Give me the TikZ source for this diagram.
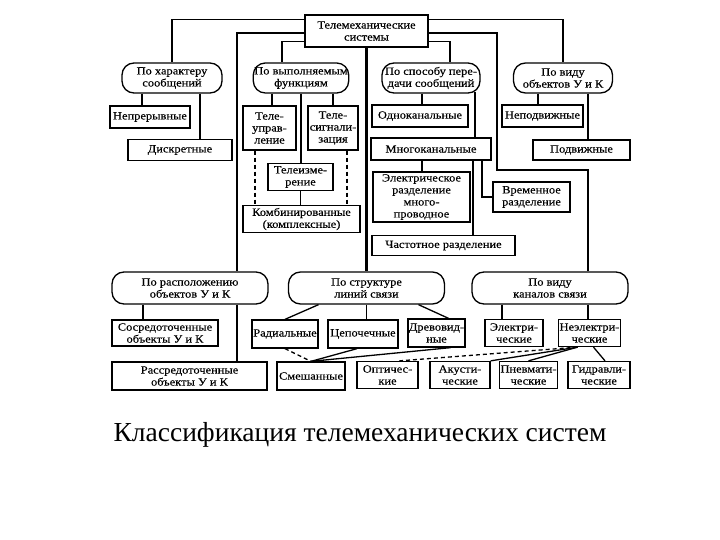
\documentclass[tikz,border=0pt]{standalone}
\usepackage{fontspec}
\setmainfont{Liberation Serif}
\newfontfamily\boxfont[FakeStretch=1.13,FakeBold=0.3]{Liberation Serif}

\begin{document}
\begin{tikzpicture}[x=1pt,y=-1pt,line width=1.3pt,box/.style={draw,rectangle,align=center,inner sep=1pt,font=\boxfont\fontsize{11}{12}\selectfont},rb/.style={box,rounded corners=12pt},thk/.style={line width=2.2pt},dsh/.style={dash pattern=on 4pt off 3pt}]
\useasboundingbox (0,0) rectangle (720,540);
\node[box,minimum width=123,minimum height=32] (top) at (366.5,31) {Телемеханические\\системы};
\node[rb,minimum width=100,minimum height=30] (hr) at (172,78) {По характеру\\сообщений};
\node[rb,minimum width=95,minimum height=30] (fn) at (301,78) {По выполняемым\\функциям};
\node[rb,minimum width=98,minimum height=30] (sp) at (431,78) {По способу пере-\\дачи сообщений};
\node[rb,minimum width=99,minimum height=30] (ob) at (563,78) {По виду\\объектов У и К};
\node[box,minimum width=80,minimum height=22] (nep) at (150,117) {Непрерывные};
\node[box,minimum width=104,minimum height=21] (dis) at (180,150) {Дискретные};
\node[box,minimum width=53,minimum height=44] (tu) at (269.5,128) {Теле-\\управ-\\ление};
\node[box,minimum width=50,minimum height=44] (ts) at (333,128) {Теле-\\сигнали-\\зация};
\node[box,minimum width=65,minimum height=27] (ti) at (300.5,177) {Телеизме-\\рение};
\node[box,minimum width=117,minimum height=27] (kom) at (301.5,219) {Комбинированные\\(комплексные)};
\node[box,minimum width=96,minimum height=22] (odn) at (420,116) {Одноканальные};
\node[box,minimum width=120,minimum height=22] (mn) at (431,149) {Многоканальные};
\node[box,minimum width=97,minimum height=50] (el) at (421.5,197) {Электрическое\\разделение\\много-\\проводное};
\node[box,minimum width=77,minimum height=30] (vr) at (531.5,197) {Временное\\разделение};
\node[box,minimum width=143,minimum height=20] (chr) at (443.5,245.5) {Частотное разделение};
\node[box,minimum width=81,minimum height=22] (nepd) at (542.5,116) {Неподвижные};
\node[box,minimum width=97,minimum height=20] (pod) at (581.5,150) {Подвижные};
\node[rb,minimum width=156,minimum height=32] (loc) at (190,288) {По расположению\\объектов У и К};
\node[rb,minimum width=156,minimum height=32] (st) at (366.5,288) {По структуре\\линий связи};
\node[rb,minimum width=156,minimum height=32] (ch) at (550,288) {По виду\\каналов связи};
\node[box,minimum width=106,minimum height=26] (sos) at (165,333) {Сосредоточенные\\объекты У и К};
\node[box,minimum width=155,minimum height=28] (ras) at (189.5,376) {Рассредоточенные\\объекты У и К};
\node[box,minimum width=66,minimum height=28] (rad) at (285,334) {Радиальные};
\node[box,minimum width=70,minimum height=28] (cep) at (363,334) {Цепочечные};
\node[box,minimum width=57,minimum height=28] (dr) at (436.5,333) {Древовид-\\ные};
\node[box,minimum width=68,minimum height=28] (sm) at (311,376) {Смешанные};
\node[box,minimum width=58,minimum height=27] (elk) at (514,333) {Электри-\\ческие};
\node[box,minimum width=55,minimum height=27] (nel) at (589.5,333) {Неэлектри-\\ческие};
\node[box,minimum width=61,minimum height=27] (opt) at (387.5,375) {Оптичес-\\кие};
\node[box,minimum width=60,minimum height=27] (ak) at (460,375) {Акусти-\\ческие};
\node[box,minimum width=57,minimum height=27] (pn) at (528.5,375) {Пневмати-\\ческие};
\node[box,minimum width=62,minimum height=27] (gd) at (599,375) {Гидравли-\\ческие};
\node[font=\fontsize{27.5}{30}\selectfont] (cap) at (360,435) {Классификация телемеханических систем};
\coordinate (kr) at (497,170);
\draw ([yshift=-5]top.north west) -| (hr);
\draw ([yshift=-5]top.north east) -| (ob);
\draw ([yshift=6]top.south west) -| ([xshift=-19]fn.north);
\draw ([yshift=6]top.south east) -| ([xshift=19]sp.north);
\draw[thk] ([yshift=-2]top.west) -| ([xshift=47]loc.north);
\draw[thk] ([yshift=-2]top.east) -| (kr) -| ([xshift=38]ch.north);
\draw[thk] (top.south) -- (top.south |- st.north);
\draw ([xshift=-30]hr.south) -- ([xshift=-30]hr.south |- nep.north);
\draw ([xshift=28]hr.south) -- ([xshift=28]hr.south |- dis.north);
\draw ([xshift=-29]fn.south) -- ([xshift=-29]fn.south |- tu.north);
\draw ([xshift=32]fn.south) -- ([xshift=32]fn.south |- ts.north);
\draw (fn.south) -- (fn.south |- ti.north);
\draw (ti.south) -- (ti.south |- kom.north);
\draw[dsh] ([xshift=-14.5]tu.south) -- ([xshift=-14.5]tu.south |- kom.north);
\draw[dsh] ([xshift=14]ts.south) -- ([xshift=14]ts.south |- kom.north);
\draw ([xshift=-9]sp.south) -- ([xshift=-9]sp.south |- odn.north);
\draw ([xshift=44,yshift=2]sp.south) -- ([xshift=44]sp.south |- mn.north);
\draw ([xshift=-9]mn.south) -- ([xshift=-9]mn.south |- el.north);
\draw ([xshift=42]mn.south) -- ([xshift=42]mn.south |- chr.north);
\draw ([xshift=51]mn.south) |- (vr);
\draw ([xshift=-25]ob.south) -- ([xshift=-25]ob.south |- nepd.north);
\draw ([xshift=25]ob.south) -- ([xshift=25]ob.south |- pod.north);
\draw ([xshift=-47]loc.south) -- ([xshift=-47]loc.south |- sos.north);
\draw ([xshift=47]loc.south) -- ([xshift=47]loc.south |- ras.north);
\draw ([xshift=-48]st.south) -- (rad.north);
\draw (st.south) -- (st.south |- cep.north);
\draw ([xshift=52]st.south) -- ([xshift=12]dr.north);
\draw[dsh] (rad.south) -- (sm.north);
\draw ([xshift=-6]cep.south) -- (sm.north);
\draw ([xshift=14]dr.south) -- (sm.north);
\draw ([xshift=-48]ch.south) -- ([xshift=-48]ch.south |- elk.north);
\draw ([xshift=38]ch.south) -- ([xshift=38]ch.south |- nel.north);
\draw[dsh] ([xshift=-12]nel.south) -- ([xshift=12]opt.north);
\draw ([xshift=-12]nel.south) -- (ak.north east);
\draw ([xshift=-12]nel.south) -- (pn.north);
\draw ([xshift=4]nel.south) -- ([xshift=6]gd.north);
\end{tikzpicture}
\end{document}
